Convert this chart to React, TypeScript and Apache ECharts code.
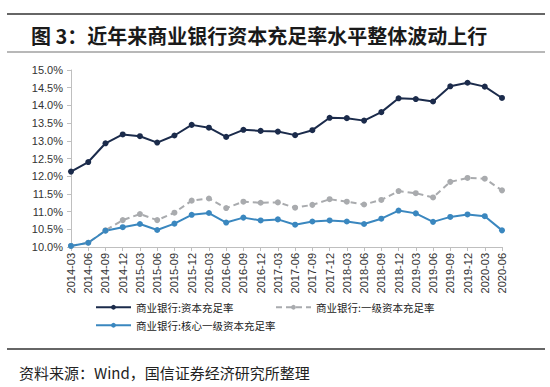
import React, { useEffect, useRef } from "react";
import * as echarts from "echarts";

const categories = [
  "2014-03", "2014-06", "2014-09", "2014-12",
  "2015-03", "2015-06", "2015-09", "2015-12",
  "2016-03", "2016-06", "2016-09", "2016-12",
  "2017-03", "2017-06", "2017-09", "2017-12",
  "2018-03", "2018-06", "2018-09", "2018-12",
  "2019-03", "2019-06", "2019-09", "2019-12",
  "2020-03", "2020-06",
];

const capitalRatio = [
  12.13, 12.40, 12.93, 13.18, 13.13, 12.95, 13.15, 13.45, 13.37, 13.11, 13.31, 13.28, 13.26,
  13.16, 13.30, 13.65, 13.64, 13.57, 13.81, 14.20, 14.18, 14.11, 14.54, 14.64, 14.53, 14.21,
];

const tier1Ratio = [
  10.03, 10.12, 10.47, 10.76, 10.93, 10.76, 10.97, 11.31, 11.37, 11.10, 11.28, 11.25, 11.26,
  11.11, 11.19, 11.35, 11.28, 11.20, 11.33, 11.58, 11.52, 11.40, 11.84, 11.95, 11.93, 11.60,
];

const coreTier1Ratio = [
  10.03, 10.12, 10.46, 10.56, 10.65, 10.48, 10.66, 10.91, 10.96, 10.69, 10.83, 10.75, 10.78,
  10.63, 10.72, 10.75, 10.72, 10.65, 10.80, 11.03, 10.95, 10.71, 10.85, 10.92, 10.87, 10.47,
];

const seriesNames = [
  "商业银行:资本充足率",
  "商业银行:一级资本充足率",
  "商业银行:核心一级资本充足率",
];

const titleText = "图 3：近年来商业银行资本充足率水平整体波动上行";
const sourceText = "资料来源：Wind，国信证券经济研究所整理";

const CJK = '"Noto Sans CJK SC", "Liberation Sans", sans-serif';
const LATIN = '"Liberation Sans", Arial, sans-serif';

export default function App() {
  const ref = useRef<HTMLDivElement>(null);
  useEffect(() => {
    if (!ref.current) return;
    const chart = echarts.init(ref.current, null, { renderer: "svg" });
    const legendCommon = {
      orient: "horizontal" as const,
      padding: 0,
      itemWidth: 35,
      itemHeight: 6,
      itemGap: 10,
      textStyle: { fontSize: 10.5, color: "#222", fontFamily: CJK },
    };
    chart.setOption({
      animation: false,
      backgroundColor: "#ffffff",
      grid: { left: 71, top: 70, width: 431, height: 177, containLabel: false },
      xAxis: {
        type: "category",
        data: categories,
        boundaryGap: false,
        axisLine: { lineStyle: { color: "#bfbfbf", width: 1 } },
        axisTick: { show: true, interval: 0, length: 4, lineStyle: { color: "#bfbfbf" } },
        axisLabel: {
          interval: 0,
          rotate: 90,
          fontSize: 11,
          color: "#333",
          fontFamily: LATIN,
          margin: 6,
        },
        splitLine: { show: false },
      },
      yAxis: {
        type: "value",
        min: 10,
        max: 15,
        interval: 0.5,
        axisLine: { show: true, lineStyle: { color: "#bfbfbf", width: 1 } },
        axisTick: { show: true, length: 4, lineStyle: { color: "#bfbfbf" } },
        axisLabel: {
          formatter: (v: number) => v.toFixed(1) + "%",
          fontSize: 11,
          color: "#333",
          fontFamily: LATIN,
          margin: 8,
        },
        splitLine: { show: false },
      },
      legend: [
        { ...legendCommon, left: 95, top: 302, data: [seriesNames[0]] },
        { ...legendCommon, left: 275, top: 302, data: [seriesNames[1]] },
        { ...legendCommon, left: 95, top: 320, data: [seriesNames[2]] },
      ],
      series: [
        {
          name: seriesNames[0],
          type: "line",
          data: capitalRatio,
          symbol: "circle",
          symbolSize: 6,
          itemStyle: { color: "#1b2b4b" },
          lineStyle: { color: "#1b2b4b", width: 2 },
        },
        {
          name: seriesNames[1],
          type: "line",
          data: tier1Ratio,
          symbol: "circle",
          symbolSize: 6,
          itemStyle: { color: "#a9abae" },
          lineStyle: { color: "#a9abae", width: 2, type: [6, 4] },
        },
        {
          name: seriesNames[2],
          type: "line",
          data: coreTier1Ratio,
          symbol: "circle",
          symbolSize: 6,
          itemStyle: { color: "#3a87bf" },
          lineStyle: { color: "#3a87bf", width: 2 },
        },
      ],
      graphic: [
        {
          type: "line",
          shape: { x1: 7, y1: 14, x2: 545, y2: 14 },
          style: { stroke: "#333", lineWidth: 1.5 },
        },
        {
          type: "text",
          x: 31,
          y: 35,
          style: {
            text: titleText,
            font: `bold 20px ${CJK}`,
            fill: "#1a1a1a",
            verticalAlign: "middle",
          },
        },
        {
          type: "line",
          shape: { x1: 7, y1: 52, x2: 545, y2: 52 },
          style: { stroke: "#a0a0a0", lineWidth: 1.5 },
        },
        {
          type: "line",
          shape: { x1: 7, y1: 349, x2: 545, y2: 349 },
          style: { stroke: "#333", lineWidth: 1.5 },
        },
        {
          type: "text",
          x: 19,
          y: 372,
          style: {
            text: sourceText,
            font: `15px ${CJK}`,
            fill: "#222",
            verticalAlign: "middle",
          },
        },
      ],
    });
    return () => chart.dispose();
  }, []);
  return (
    <div
      ref={ref}
      style={{ position: "absolute", left: 0, top: 0, width: 550, height: 387 }}
    />
  );
}
